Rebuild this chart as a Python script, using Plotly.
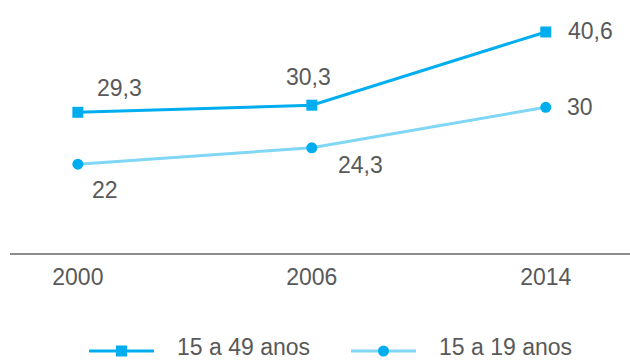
import plotly.graph_objects as go

years = ["2000", "2006", "2014"]
s1_name = "15 a 49 anos"
s1_vals = [29.3, 30.3, 40.6]
s2_name = "15 a 19 anos"
s2_vals = [22, 24.3, 30]

def fmt(v):
    return (f"{v:g}").replace(".", ",")

c1 = "#00AEEF"
c2_line = "#7FD6F5"
txt = "#595959"
font = "Liberation Sans, Arial, sans-serif"
fs = 23

W, H = 630, 362
ML, MB = 10, 109
PW, PH = W - ML, H - MB

def px(x):
    return (x - ML) / PW

def py(y):
    return (PH - y) / PH

fig = go.Figure()
fig.add_trace(go.Scatter(x=years, y=s1_vals, name=s1_name, mode="lines+markers",
                         line=dict(color=c1, width=3),
                         marker=dict(symbol="square", size=11, color=c1)))
fig.add_trace(go.Scatter(x=years, y=s2_vals, name=s2_name, mode="lines+markers",
                         line=dict(color=c2_line, width=3),
                         marker=dict(symbol="circle", size=11, color=c1)))

s1_shift = [(42, 24), (-3, 28), (45, 1)]
s2_shift = [(27, -26), (49, -17), (34, 0)]
for vals, shifts in ((s1_vals, s1_shift), (s2_vals, s2_shift)):
    for i, (v, (dx, dy)) in enumerate(zip(vals, shifts)):
        fig.add_annotation(x=i, y=v, xref="x", yref="y", text=fmt(v), showarrow=False,
                           xshift=dx, yshift=dy,
                           font=dict(family=font, size=fs, color=txt))

# legend drawn manually (longer key lines, as in the reference)
legend_items = [
    (s1_name, c1, c1, "rect", 89),
    (s2_name, c2_line, c1, "circle", 351),
]
ly = 351
for name, lc, mc, shp, x0 in legend_items:
    fig.add_shape(type="line", xref="paper", yref="paper",
                  x0=px(x0), x1=px(x0 + 65), y0=py(ly), y1=py(ly),
                  line=dict(color=lc, width=3))
    cx = x0 + 32.5
    r = 5.5
    fig.add_shape(type=shp, xref="paper", yref="paper",
                  x0=px(cx - r), x1=px(cx + r), y0=py(ly + r), y1=py(ly - r),
                  fillcolor=mc, line=dict(width=0))
    fig.add_annotation(xref="paper", yref="paper", x=px(x0 + 87), y=py(347),
                       xanchor="left", yanchor="middle", text=name, showarrow=False,
                       borderpad=0,
                       font=dict(family=font, size=fs, color=txt))

fig.update_layout(
    width=W, height=H,
    margin=dict(l=ML, r=0, t=0, b=MB, autoexpand=False),
    paper_bgcolor="white", plot_bgcolor="white",
    font=dict(family=font, size=fs, color=txt),
    showlegend=False,
)
fig.update_xaxes(type="category", range=[-0.29, 2.36], showgrid=False,
                 showline=True, linecolor="#8c8c8c", linewidth=1.5,
                 ticks="", automargin=False, ticklabelstandoff=3,
                 tickfont=dict(family=font, size=fs, color=txt))
fig.update_yaxes(range=[9.5, 45.1], showgrid=False, zeroline=False,
                 showticklabels=False, showline=False, automargin=False)

fig.write_html("out.html", config={"displayModeBar": False},
               post_script="document.body.style.margin='0';document.body.style.overflow='hidden';")
